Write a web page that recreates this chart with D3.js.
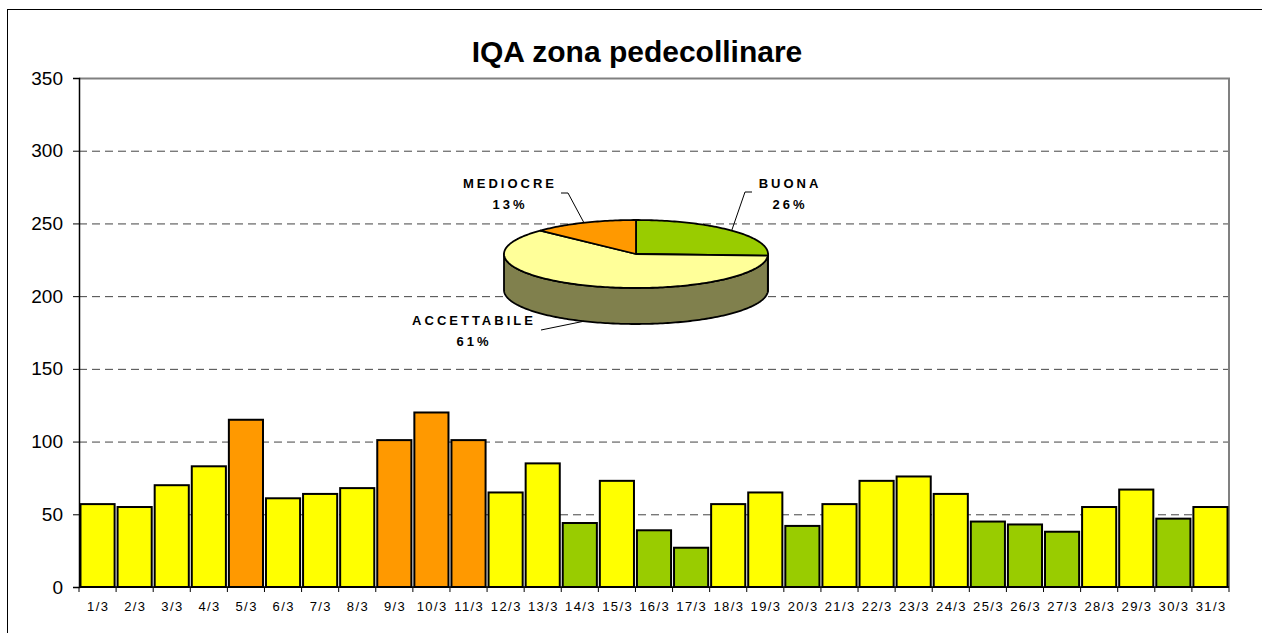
<!DOCTYPE html>
<html lang="it">
<head>
<meta charset="utf-8" />
<title>IQA zona pedecollinare</title>
<script src="https://cdn.jsdelivr.net/npm/d3@7"></script>
<style>
  body { margin: 0; background: #fff; }
  text { font-family: Arial, 'Liberation Sans', sans-serif; fill: #000; }
</style>
</head>
<body>
<svg width="1262" height="633"></svg>

<script>
// daily air quality index, March
var days = ['1/3', '2/3', '3/3', '4/3', '5/3', '6/3', '7/3', '8/3', '9/3', '10/3',
            '11/3', '12/3', '13/3', '14/3', '15/3', '16/3', '17/3', '18/3', '19/3', '20/3',
            '21/3', '22/3', '23/3', '24/3', '25/3', '26/3', '27/3', '28/3', '29/3', '30/3', '31/3'];
var iqa = [57, 55, 70, 83, 115, 61, 64, 68, 101, 120,
           101, 65, 85, 44, 73, 39, 27, 57, 65, 42,
           57, 73, 76, 64, 45, 43, 38, 55, 67, 47, 55];
var classes = ['BUONA', 'ACCETTABILE', 'MEDIOCRE'];
var classLimits = [51, 101];
var yTicks = [0, 50, 100, 150, 200, 250, 300, 350];

var svg = d3.select('svg'),
    margin = {top: 78, right: 33, bottom: 46, left: 79},
    width = +svg.attr('width') - margin.left - margin.right,
    height = +svg.attr('height') - margin.top - margin.bottom;

var level = d3.scaleThreshold().domain(classLimits).range(classes);
var barColor = d3.scaleOrdinal(classes, ['#99cc00', '#ffff00', '#ff9900']);
var pieColor = d3.scaleOrdinal(classes, ['#99cc00', '#ffff99', '#ff9900']);
var sideColor = d3.scaleOrdinal(classes, ['#4d6600', '#80804d', '#804d00']);

// outer frame
svg.append('rect')
    .attr('x', 7.5).attr('y', 9.5)
    .attr('width', 1400).attr('height', 800)
    .attr('fill', 'none').attr('stroke', '#000').attr('stroke-width', 1);

svg.append('text')
    .attr('x', 637).attr('y', 62)
    .attr('text-anchor', 'middle')
    .style('font-size', '30px').style('font-weight', 'bold')
    .text('IQA zona pedecollinare');

var g = svg.append('g').attr('transform', 'translate(' + margin.left + ',' + margin.top + ')');

var x = d3.scaleBand().domain(days).range([0, width]).paddingInner(0.08).paddingOuter(0.04);
var y = d3.scaleLinear().domain([0, 350]).range([height, 0]);

// dashed grid
g.selectAll('.grid')
    .data(yTicks.filter(function(d) { return d > 0 && d < 350; }))
    .enter().append('line')
    .attr('x1', 0).attr('x2', width)
    .attr('y1', function(d) { return y(d) + 0.5; })
    .attr('y2', function(d) { return y(d) + 0.5; })
    .attr('stroke', '#444').attr('stroke-dasharray', '8,5');

// plot area border (top / right)
g.append('path')
    .attr('d', 'M0,' + (y(350) + 0.5) + 'H' + width + 'V' + height)
    .attr('fill', 'none').attr('stroke', '#808080').attr('stroke-width', 2);

// bars
g.selectAll('.bar')
    .data(iqa)
    .enter().append('rect')
    .attr('class', 'bar')
    .attr('x', function(d, i) { return x(days[i]); })
    .attr('y', function(d) { return y(d); })
    .attr('width', x.bandwidth())
    .attr('height', function(d) { return height - y(d); })
    .attr('fill', function(d) { return barColor(level(d)); })
    .attr('stroke', '#000').attr('stroke-width', 2);

// y axis
var yAxis = g.append('g')
    .call(d3.axisLeft(y).tickValues(yTicks).tickSize(6).tickPadding(10));
yAxis.select('.domain').attr('stroke', '#000').attr('stroke-width', 1.5);
yAxis.selectAll('text').style('font-size', '19px');

// x axis, ticks between categories
var step = x.step(), off = (step - x.bandwidth()) / 2;
var xAxis = g.append('g').attr('transform', 'translate(0,' + height + ')');
xAxis.append('line').attr('x1', 0).attr('x2', width).attr('stroke', '#000').attr('stroke-width', 1.5);
xAxis.selectAll('.tk')
    .data(days.concat(['end']))
    .enter().append('line')
    .attr('x1', function(d, i) { return i * step + x(days[0]) - off; })
    .attr('x2', function(d, i) { return i * step + x(days[0]) - off; })
    .attr('y1', 0).attr('y2', 5)
    .attr('stroke', '#000');
xAxis.selectAll('.lbl')
    .data(days)
    .enter().append('text')
    .attr('x', function(d) { return x(d) + x.bandwidth() / 2 + 0.7; })
    .attr('y', 24)
    .attr('text-anchor', 'middle')
    .style('font-size', '13px').style('letter-spacing', '1.4px')
    .text(function(d) { return d; });

// 3D pie of class counts
var counts = classes.map(function(c) {
    return iqa.filter(function(v) { return level(v) === c; }).length;
});
var total = d3.sum(counts);
var slices = d3.pie().sort(null)(counts);

var pcx = 636, pcy = 254, prx = 132, pry = 34, depth = 36;

function ell(a, dy) {
    return [pcx + prx * Math.sin(a), pcy - pry * Math.cos(a) + (dy || 0)];
}
function arcPts(a0, a1, dy) {
    var n = Math.max(2, Math.ceil((a1 - a0) / 0.02));
    return d3.range(n + 1).map(function(k) { return ell(a0 + (a1 - a0) * k / n, dy); });
}
var line = d3.line();
var pg = svg.append('g');

// side walls (front half only)
slices.forEach(function(s, i) {
    var s0 = Math.max(s.startAngle, Math.PI / 2),
        s1 = Math.min(s.endAngle, 3 * Math.PI / 2);
    if (s0 >= s1) return;
    var pts = arcPts(s0, s1, 0).concat(arcPts(s0, s1, depth).reverse());
    pg.append('path')
        .attr('d', line(pts) + 'Z')
        .attr('fill', sideColor(classes[i]))
        .attr('stroke', '#000').attr('stroke-width', 1.8).attr('stroke-linejoin', 'round');
});

// top faces
slices.forEach(function(s, i) {
    var pts = [[pcx, pcy]].concat(arcPts(s.startAngle, s.endAngle, 0));
    pg.append('path')
        .attr('d', line(pts) + 'Z')
        .attr('fill', pieColor(classes[i]))
        .attr('stroke', '#000').attr('stroke-width', 1.8).attr('stroke-linejoin', 'round');
});

// labels with leader lines
var labelPos = {
    'MEDIOCRE':    {x: 510, y: 188, path: [[561, 193], [568, 193]]},
    'BUONA':       {x: 790, y: 188, path: [[752, 192], [745, 192]]},
    'ACCETTABILE': {x: 474, y: 325, path: [[541, 330]]}
};
slices.forEach(function(s, i) {
    var c = classes[i], lp = labelPos[c];
    var mid = (s.startAngle + s.endAngle) / 2;
    var front = Math.cos(mid) < 0;
    var end = ell(mid, front ? depth : 0);
    pg.append('path')
        .attr('d', line(lp.path.concat([end])))
        .attr('fill', 'none').attr('stroke', '#000').attr('stroke-width', 1);
    var t = pg.append('text')
        .attr('text-anchor', 'middle')
        .style('font-size', '13px').style('font-weight', 'bold').style('letter-spacing', '3px');
    t.append('tspan').attr('x', lp.x).attr('y', lp.y).text(c);
    t.append('tspan').attr('x', lp.x).attr('y', lp.y + 21)
        .text(Math.round(counts[i] / total * 100) + '%');
});
</script>
</body>
</html>
